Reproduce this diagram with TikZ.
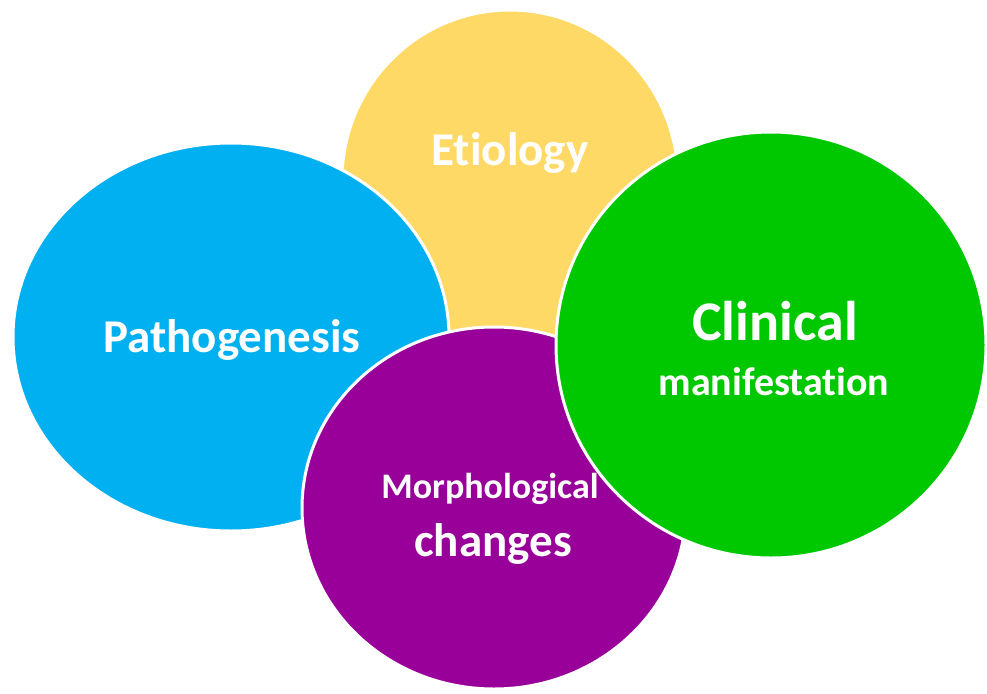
\documentclass[tikz,border=0pt]{standalone}
\usepackage{fontspec}
\setmainfont{Carlito}[Ligatures=NoCommon]
\usetikzlibrary{shapes.geometric}
\definecolor{etiocol}{RGB}{255,217,102}
\definecolor{pathocol}{RGB}{0,176,240}
\definecolor{morphcol}{RGB}{153,0,153}
\definecolor{cliniccol}{RGB}{0,200,0}
\tikzset{
  blob/.style={ellipse, draw=white, line width=3pt, inner sep=0pt},
  lbl/.style={text=white, font=\bfseries, anchor=base, inner sep=0pt}
}
\begin{document}
\begin{tikzpicture}[x=1pt,y=-1pt]
		\useasboundingbox (0,0) rectangle (987,693);
		\node[blob, fill=etiocol, minimum width=336pt, minimum height=340pt] (etio) at (510,180) {};
		\node[blob, fill=pathocol, minimum width=436pt, minimum height=388pt] (patho) at (231,337) {};
		\node[blob, fill=morphcol, minimum width=384pt, minimum height=362pt] (morph) at (494,508) {};
		\node[blob, fill=cliniccol, minimum width=430pt, minimum height=426pt] (clinic) at (771,345) {};
		\node[lbl, font=\bfseries\fontsize{47}{50}\selectfont] (etiotxt) at (510,165) {Etiology};
		\node[lbl, font=\bfseries\fontsize{47}{50}\selectfont] (pathotxt) at (232,352) {Pathogenesis};
		\node[lbl, font=\bfseries\fontsize{36}{40}\selectfont] (morphtxt) at (490,498) {Morphological};
		\node[lbl, font=\bfseries\fontsize{47}{50}\selectfont] (morphtxt2) at (493,556) {changes};
		\node[lbl, font=\bfseries\fontsize{56}{60}\selectfont] (clinictxt) at (775,340) {Clinical};
		\node[lbl, font=\bfseries\fontsize{40}{44}\selectfont] (clinictxt2) at (774,395) {manifestation};
	\end{tikzpicture}
\end{document}
